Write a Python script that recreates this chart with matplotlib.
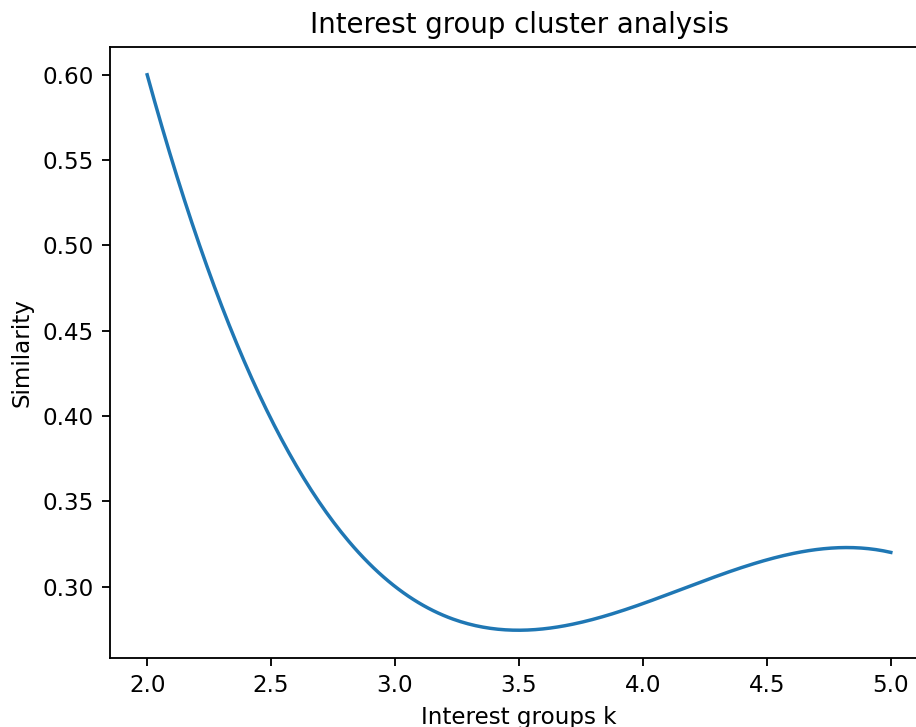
import numpy as np
import matplotlib
matplotlib.use("Agg")
import matplotlib.pyplot as plt

# measured similarity at each number of interest groups
k_values = [2, 3, 4, 5]
similarity = [0.60, 0.30, 0.29, 0.32]

# smooth curve through the measured points (cubic, as in the original plot)
coef = np.polyfit(k_values, similarity, 3)
k_smooth = np.linspace(min(k_values), max(k_values), 300)
sim_smooth = np.polyval(coef, k_smooth)

DPI = 166
fig = plt.figure(figsize=(916 / DPI, 727 / DPI), dpi=DPI)
# the reference is cropped: the right spine sits just past the image edge
ax = fig.add_axes([110 / 916, 69 / 727, 818 / 916, 611 / 727])
ax.plot(k_smooth, sim_smooth, color="tab:blue")

ax.set_title("Interest group cluster analysis")
ax.set_xlabel("Interest groups k")
ax.set_ylabel("Similarity")

fig.savefig("out.png", dpi=DPI)
plt.close(fig)
